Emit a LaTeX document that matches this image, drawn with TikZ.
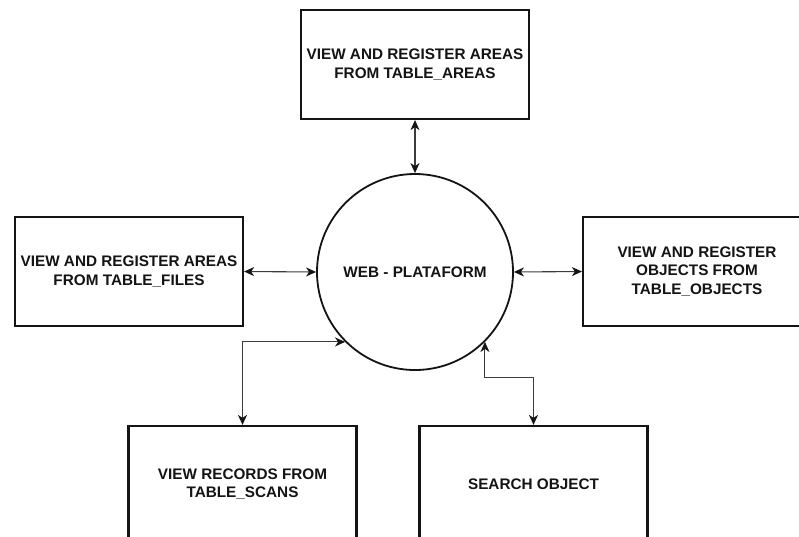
\documentclass[tikz,border=0pt]{standalone}
\usepackage{fontspec}
\setmainfont{Liberation Sans}
\usepackage{xcolor}
\usetikzlibrary{arrows.meta,calc,positioning}
\definecolor{ink}{RGB}{20,20,20}
\definecolor{wire}{RGB}{60,60,60}
\tikzset{
  modbox/.style={
    draw=ink, line width=2.2pt, fill=white,
    minimum width=228pt, minimum height=109pt,
    align=center, font=\fontsize{15.3}{18.7}\selectfont\bfseries,
    text=ink, inner sep=0pt,
  },
  hubnode/.style={
    draw=ink, line width=1.8pt, circle, fill=white,
    minimum size=196pt, inner sep=0pt,
    font=\fontsize{15.3}{18.7}\selectfont\bfseries, text=ink,
  },
  tip/.tip={Stealth[length=10pt,width=9pt,inset=3pt,color=ink]},
  link/.style={tip-tip, line width=1.1pt, draw=wire},
}

\begin{document}
\begin{tikzpicture}[x=1pt,y=-1pt]
  \clip (0,0) rectangle (799,536);
  \fill[white] (0,0) rectangle (799,536);

  \node[hubnode] (web) at (415,272) {WEB - PLATAFORM};

  \node[modbox] (areas) at (415,64.5) {VIEW AND REGISTER AREAS\\FROM TABLE\_AREAS};
  \node[modbox] (files) at (129,271.5) {VIEW AND REGISTER AREAS\\FROM TABLE\_FILES};
  \node[modbox] (objects) at (697,271.5) {VIEW AND REGISTER\\OBJECTS FROM\\TABLE\_OBJECTS};
  % lower row runs off the bottom edge
  \node[modbox, minimum height=116pt] (scans) at (242.5,484) {VIEW RECORDS FROM\\TABLE\_SCANS};
  \node[modbox, minimum height=116pt] (search) at (533.5,484) {SEARCH OBJECT};

  \draw[link] (areas.south) -- (web.north);
  \draw[link] (files.east) -- (web.west);
  \draw[link] (web.east) -- (objects.west);
  \draw[link] (web.225) -| (scans.north);
  \draw[link] (web.315) -- ++(0,36) -| (search.north);
\end{tikzpicture}
\end{document}
